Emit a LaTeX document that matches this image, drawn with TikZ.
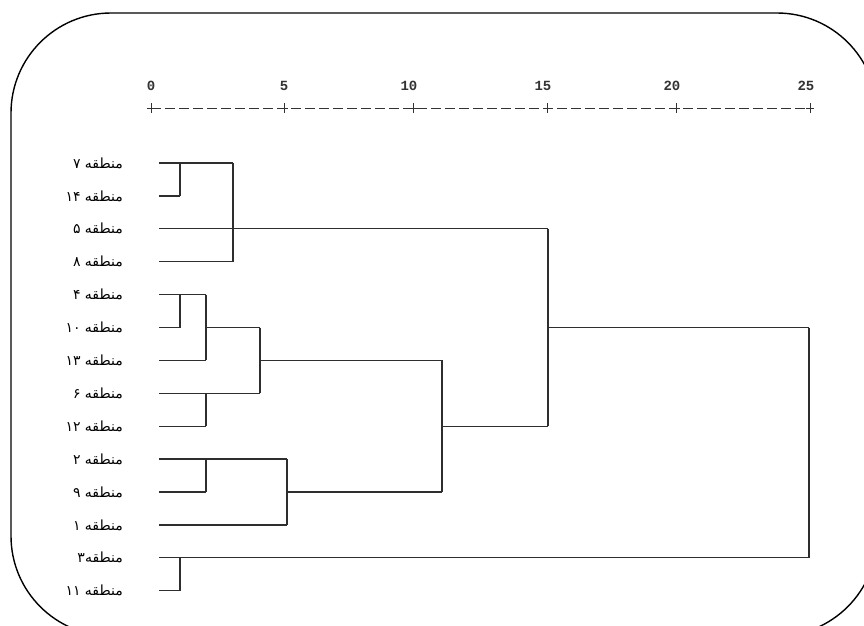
\documentclass[tikz,border=0pt]{standalone}
\usepackage{fontspec}
\newfontfamily\arabicfont[Script=Arabic]{DejaVu Sans}
\newfontfamily\axisfont{Liberation Mono}
\TeXXeTstate=1
\tikzset{
  frame/.style={line width=1.4pt, draw=black},
  lab/.style={anchor=east, inner sep=0pt, font=\arabicfont\fontsize{14}{16}\selectfont},
  num/.style={anchor=base east, inner sep=0pt, font=\axisfont\bfseries\fontsize{14}{16}\selectfont, text=black!80},
  axisline/.style={line width=1pt, draw=black!80, dash pattern=on 9.5pt off 4.5pt},
  tickmark/.style={line width=1pt, draw=black!80},
  branch/.style={line width=1.3pt, draw=black!82},
}
\begin{document}
\begin{tikzpicture}[x=1pt,y=-1pt]
\useasboundingbox (0,0) rectangle (864,625);
\begin{scope}
  \clip (0,0) rectangle (864,625);
  \draw[frame, rounded corners=100pt] (11,13) rectangle (877,636);
\end{scope}

% axis
\coordinate (t0) at (151,108);
\coordinate (t1) at (284,108);
\coordinate (t2) at (413,108);
\coordinate (t3) at (547,108);
\coordinate (t4) at (676,108);
\coordinate (t5) at (810,108);
\draw[axisline] (t0) -- (t5);
\foreach \t in {t0,t1,t2,t3,t4,t5}{
  \draw[tickmark] ([yshift=-5pt]\t) -- ([yshift=5pt]\t);
  \draw[tickmark] ([xshift=-4pt]\t) -- ([xshift=4pt]\t);
}
\node[num] (n0) at (155.5,90) {0};
\node[num] (n1) at (288.5,90) {5};
\node[num] (n2) at (417.5,90) {10};
\node[num] (n3) at (551.5,90) {15};
\node[num] (n4) at (680.5,90) {20};
\node[num] (n5) at (814.5,90) {25};

% leaf line starts
\coordinate (a1) at (159,163);
\coordinate (a2) at (159,195.9);
\coordinate (a3) at (159,228.8);
\coordinate (a4) at (159,261.7);
\coordinate (a5) at (159,294.6);
\coordinate (a6) at (159,327.5);
\coordinate (a7) at (159,360.4);
\coordinate (a8) at (159,393.3);
\coordinate (a9) at (159,426.2);
\coordinate (a10) at (159,459.1);
\coordinate (a11) at (159,492);
\coordinate (a12) at (159,524.9);
\coordinate (a13) at (159,557.8);
\coordinate (a14) at (159,590.7);

% labels
\node[lab] (l1) at (123,163) {\beginR منطقه \beginL ۷\endL\endR};
\node[lab] (l2) at (123,195.9) {\beginR منطقه \beginL ۱۴\endL\endR};
\node[lab] (l3) at (123,228.8) {\beginR منطقه \beginL ۵\endL\endR};
\node[lab] (l4) at (123,261.7) {\beginR منطقه \beginL ۸\endL\endR};
\node[lab] (l5) at (123,294.6) {\beginR منطقه \beginL ۴\endL\endR};
\node[lab] (l6) at (123,327.5) {\beginR منطقه \beginL ۱۰\endL\endR};
\node[lab] (l7) at (123,360.4) {\beginR منطقه \beginL ۱۳\endL\endR};
\node[lab] (l8) at (123,393.3) {\beginR منطقه \beginL ۶\endL\endR};
\node[lab] (l9) at (123,426.2) {\beginR منطقه \beginL ۱۲\endL\endR};
\node[lab] (l10) at (123,459.1) {\beginR منطقه \beginL ۲\endL\endR};
\node[lab] (l11) at (123,492) {\beginR منطقه \beginL ۹\endL\endR};
\node[lab] (l12) at (123,524.9) {\beginR منطقه \beginL ۱\endL\endR};
\node[lab] (l13) at (123,557.8) {\beginR منطقه۳\endR};
\node[lab] (l14) at (123,590.7) {\beginR منطقه \beginL ۱۱\endL\endR};

% merge columns
\coordinate (c180) at (180,0);
\coordinate (c206) at (206,0);
\coordinate (c233) at (233,0);
\coordinate (c260) at (260,0);
\coordinate (c287) at (287,0);
\coordinate (c442) at (442,0);
\coordinate (c548) at (548,0);
\coordinate (c809) at (809,0);

% group 7,14,5,8
\draw[branch] (a1) -- (a1 -| c233);
\draw[branch] (a2) -- (a2 -| c180);
\draw[branch] (a1 -| c180) -- (a2 -| c180);
\draw[branch] (a4) -- (a4 -| c233);
\draw[branch] (a1 -| c233) -- (a4 -| c233);
\draw[branch] (a3) -- (a3 -| c548);

% group 4,10,13,6,12
\draw[branch] (a5) -- (a5 -| c206);
\draw[branch] (a6) -- (a6 -| c180);
\draw[branch] (a5 -| c180) -- (a6 -| c180);
\draw[branch] (a7) -- (a7 -| c206);
\draw[branch] (a5 -| c206) -- (a7 -| c206);
\draw[branch] (a6 -| c206) -- (a6 -| c260);
\draw[branch] (a8) -- (a8 -| c260);
\draw[branch] (a9) -- (a9 -| c206);
\draw[branch] (a8 -| c206) -- (a9 -| c206);
\draw[branch] (a6 -| c260) -- (a8 -| c260);
\draw[branch] (a7 -| c260) -- (a7 -| c442);

% group 2,9,1
\draw[branch] (a10) -- (a10 -| c287);
\draw[branch] (a11) -- (a11 -| c206);
\draw[branch] (a10 -| c206) -- (a11 -| c206);
\draw[branch] (a12) -- (a12 -| c287);
\draw[branch] (a10 -| c287) -- (a12 -| c287);
\draw[branch] (a11 -| c287) -- (a11 -| c442);

% upper merges
\draw[branch] (a7 -| c442) -- (a11 -| c442);
\draw[branch] (a9 -| c442) -- (a9 -| c548);
\draw[branch] (a3 -| c548) -- (a9 -| c548);
\draw[branch] (a6 -| c548) -- (a6 -| c809);

% group 3,11
\draw[branch] (a13) -- (a13 -| c809);
\draw[branch] (a14) -- (a14 -| c180);
\draw[branch] (a13 -| c180) -- (a14 -| c180);
\draw[branch] (a6 -| c809) -- (a13 -| c809);
\end{tikzpicture}
\end{document}
